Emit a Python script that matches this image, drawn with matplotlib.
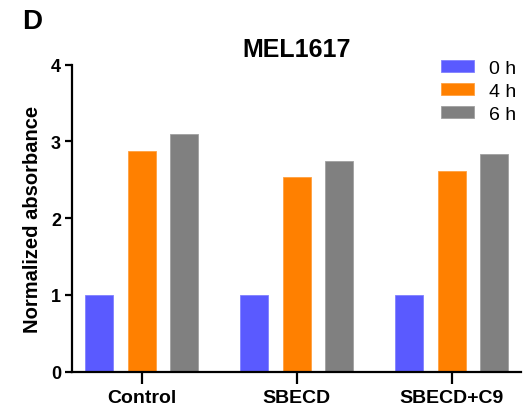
import matplotlib
matplotlib.use("Agg")
import matplotlib.pyplot as plt
import numpy as np

# data
groups = ["Control", "SBECD", "SBECD+C9"]
series_labels = ["0 h", "4 h", "6 h"]
values_0h = [1.0, 1.0, 1.0]
values_4h = [2.88, 2.54, 2.61]
values_6h = [3.10, 2.74, 2.83]
series_colors = ["#5A5AFF", "#FF8000", "#808080"]
edge_colors = ["#8080FF", "#FFA040", "#A0A0A0"]

plt.rcParams["font.family"] = ["Liberation Sans", "DejaVu Sans"]

fig = plt.figure(figsize=(5.31, 4.14), dpi=100)
ax = fig.add_axes([72 / 531, 1 - 372.7 / 414, (521 - 72) / 531, (372.7 - 65.7) / 414])

x = np.arange(len(groups))
offset = 0.275
width = 0.18
for i, vals in enumerate([values_0h, values_4h, values_6h]):
    ax.bar(x + (i - 1) * offset, vals, width=width,
           color=series_colors[i], edgecolor=edge_colors[i], linewidth=0.6,
           label=series_labels[i])

# axes layout
ax.set_xlim(-0.45, 2.447)
ax.set_ylim(0, 4)
ax.set_yticks([0, 1, 2, 3, 4])
ax.set_xticks(x)
ax.set_xticklabels(groups, fontsize=14, fontweight="bold")
for lab in ax.get_yticklabels():
    lab.set_fontsize(13)
    lab.set_fontweight("bold")
ax.spines["top"].set_visible(False)
ax.spines["right"].set_visible(False)
ax.spines["left"].set_linewidth(1.6)
ax.spines["bottom"].set_linewidth(1.6)
ax.tick_params(axis="y", length=5, width=1.6, pad=3)
ax.tick_params(axis="x", length=8.5, width=1.6, pad=4)
ax.set_ylabel("Normalized absorbance", fontsize=14.5, fontweight="bold", labelpad=6)
ax.set_title("MEL1617", fontsize=18, fontweight="bold", pad=6)

fig.text(22 / 531, 1 - 9 / 414, "D", fontsize=20, fontweight="bold", va="top", ha="left")

ax.legend(loc="upper right", bbox_to_anchor=(1.007, 1.04), frameon=False, fontsize=14,
          handlelength=1.7, handleheight=0.55, labelspacing=0.3, handletextpad=0.8,
          borderaxespad=0)

fig.savefig("out.png", dpi=100)
